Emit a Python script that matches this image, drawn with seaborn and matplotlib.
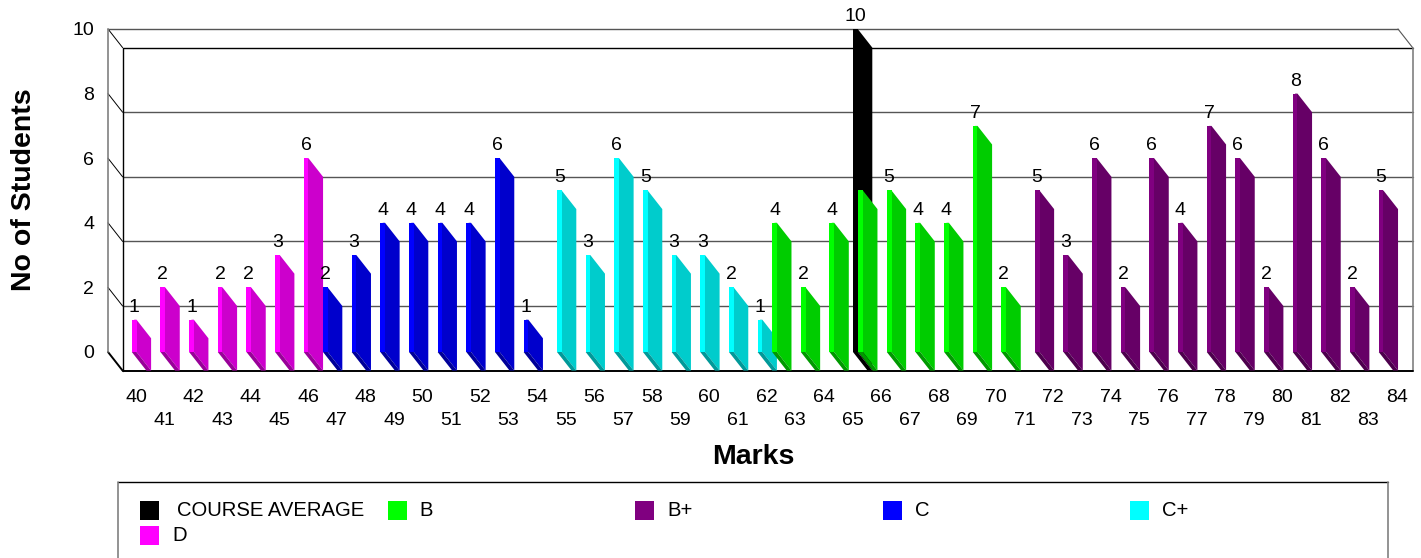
import numpy as np
import pandas as pd
import seaborn as sns
import matplotlib.pyplot as plt
from matplotlib.lines import Line2D
from matplotlib.patches import Polygon, Rectangle

# --- data ---
marks_d = [40, 41, 42, 43, 44, 45, 46]
counts_d = [1, 2, 1, 2, 2, 3, 6]
marks_c = [47, 48, 49, 50, 51, 52, 53, 54]
counts_c = [2, 3, 4, 4, 4, 4, 6, 1]
marks_cplus = [55, 56, 57, 58, 59, 60, 61, 62]
counts_cplus = [5, 3, 6, 5, 3, 3, 2, 1]
marks_b = [63, 64, 65, 66, 67, 68, 69, 70, 71]
counts_b = [4, 2, 4, 5, 5, 4, 4, 7, 2]
marks_bplus = [72, 73, 74, 75, 76, 77, 78, 79, 80, 81, 82, 83, 84]
counts_bplus = [5, 3, 6, 2, 6, 4, 7, 6, 2, 8, 6, 2, 5]
marks_avg = [65]
counts_avg = [10]

all_marks = list(range(40, 85))
# left to right inside a category slot
hue_order = ["B", "B+", "C", "C+", "D", "COURSE AVERAGE"]
colors = {"B": "#00ff00", "B+": "#800080", "C": "#0000ff", "C+": "#00ffff",
          "D": "#ff00ff", "COURSE AVERAGE": "#000000"}
legend_labels = ["COURSE AVERAGE", "B", "B+", "C", "C+", "D"]

frames = []
for grade, m, c in [("D", marks_d, counts_d), ("C", marks_c, counts_c),
                    ("C+", marks_cplus, counts_cplus), ("B", marks_b, counts_b),
                    ("B+", marks_bplus, counts_bplus),
                    ("COURSE AVERAGE", marks_avg, counts_avg)]:
    frames.append(pd.DataFrame({"mark": m, "count": c, "grade": grade}))
df = pd.concat(frames, ignore_index=True)

sns.set_style("white")
plt.rcParams["font.family"] = ["Liberation Sans", "DejaVu Sans"]

W, H = 1421, 558
fig = plt.figure(figsize=(W / 100, H / 100), dpi=100)
# front plane of the fake 3D box, in pixels
LEFT, RIGHT, TOP, BASE = 108, 1398, 29, 352
ax = fig.add_axes([LEFT / W, 1 - BASE / H, (RIGHT - LEFT) / W, (BASE - TOP) / H])

sns.barplot(data=df, x="mark", y="count", hue="grade", order=all_marks,
            hue_order=hue_order, palette=colors, saturation=1, width=0.984,
            errorbar=None, legend=False, linewidth=0, ax=ax)

CAT_PX = 28.66
ax.set_xlim((LEFT - 127.1) / CAT_PX, (RIGHT - 127.1) / CAT_PX)
ax.set_ylim(0, 10)
xmin, xmax = ax.get_xlim()
DX = 14.6 / CAT_PX       # depth, in data units
DY = -18.6 / 32.3

for s in ax.spines.values():
    s.set_visible(False)


def box_line(xs, ys, color="black", lw=1.0, z=1):
    ax.add_line(Line2D(xs, ys, color=color, lw=lw, zorder=z, clip_on=False))


# walls
ax.set_yticks([0, 2, 4, 6, 8, 10])
for v in ax.get_yticks():
    if v > 0:
        box_line([xmin + DX, xmax + DX], [v + DY, v + DY],
                 color="black" if v == 10 else "#555555", lw=1.0)
    box_line([xmin, xmin + DX], [v, v + DY], lw=1.4 if v == 0 else 0.7)
box_line([xmin, xmax], [10, 10], color="#555555", lw=1.0)
box_line([xmin, xmin], [0, 10], color="#808080", lw=1.2)
box_line([xmin + DX, xmin + DX], [DY, 10 + DY], lw=1.0)
box_line([xmax, xmax + DX], [10, 10 + DY], color="#555555", lw=0.8)
box_line([xmax + DX, xmax + DX], [DY, 10 + DY], color="#808080", lw=1.2)
box_line([xmin + DX, xmax + DX], [DY, DY], lw=1.4)

# extrude the bars seaborn drew, left to right so the later ones overlap
bars = sorted([p for p in ax.patches if p.get_height() > 0], key=lambda p: p.get_x())
for i, p in enumerate(bars):
    x0, w, h = p.get_x(), p.get_width(), p.get_height()
    rgb = np.array(p.get_facecolor()[:3])
    z = 3 + i * 0.01
    p.set_zorder(z + 0.002)
    # side starts under the front face so no seam shows between them
    ax.add_patch(Polygon([(x0 + w / 2, h), (x0 + w, h), (x0 + w + DX, h + DY), (x0 + w + DX, DY),
                          (x0 + w, 0), (x0 + w / 2, 0)],
                         closed=True, fc=rgb * 0.8, lw=0, zorder=z, clip_on=False))
    ax.add_patch(Polygon([(x0, 0), (x0 + w, 0), (x0 + w + DX, DY), (x0 + DX, DY)],
                         closed=True, fc=rgb * 0.6, lw=0, zorder=z + 0.001, clip_on=False))
    ax.annotate(str(int(h)), (x0 + w / 2, h), xytext=(0, 8), textcoords="offset pixels",
                ha="center", va="baseline", fontsize=14, color="black",
                zorder=10, annotation_clip=False)

# tick labels, staggered on two rows
ax.set_xticks(np.arange(len(all_marks)) + 8.9 / CAT_PX)
ax.set_xticklabels([str(m) for m in all_marks], fontsize=14, color="black")
ax.set_yticklabels(["0", "2", "4", "6", "8", "10"], fontsize=14, color="black")
ax.tick_params(axis="x", length=0, pad=27)
ax.tick_params(axis="y", length=0, pad=10)
for i, tick in enumerate(ax.xaxis.get_major_ticks()):
    if i % 2 == 1:
        tick.set_pad(27 + 16.3)

ax.set_xlabel("Marks", fontsize=20.5, fontweight="bold", va="center", color="black")
ax.xaxis.set_label_coords(0.5, (BASE - 457.5) / (BASE - TOP))
ax.set_ylabel("No of Students", fontsize=20.5, fontweight="bold", va="center", color="black")
ax.yaxis.set_label_coords((24 - LEFT) / (RIGHT - LEFT), (BASE - 190) / (BASE - TOP))


# legend box runs off the bottom of the image
def fx(x):
    return x / W


def fy(y):
    return 1 - y / H


fig.add_artist(Line2D([fx(118), fx(1388)], [fy(482), fy(482)], color="black", lw=1.0))
for x in (118, 1388):
    fig.add_artist(Line2D([fx(x), fx(x)], [fy(482), fy(558)], color="#808080", lw=1.2))

col_x = [140, 387.5, 635, 882.5, 1130]
for i, label in enumerate(legend_labels):
    row, col = divmod(i, 5)
    sx = col_x[col]
    sy = 501 + row * 24.5
    fig.add_artist(Rectangle((fx(sx), fy(sy + 19)), 19 / W, 19 / H, transform=fig.transFigure,
                             fc=colors[label], lw=0))
    tx = sx + (37 if label == "COURSE AVERAGE" else 32)
    fig.text(fx(tx), fy(sy + 10), label, fontsize=14.6, color="black", ha="left", va="center")

fig.savefig("out.png", dpi=100)
